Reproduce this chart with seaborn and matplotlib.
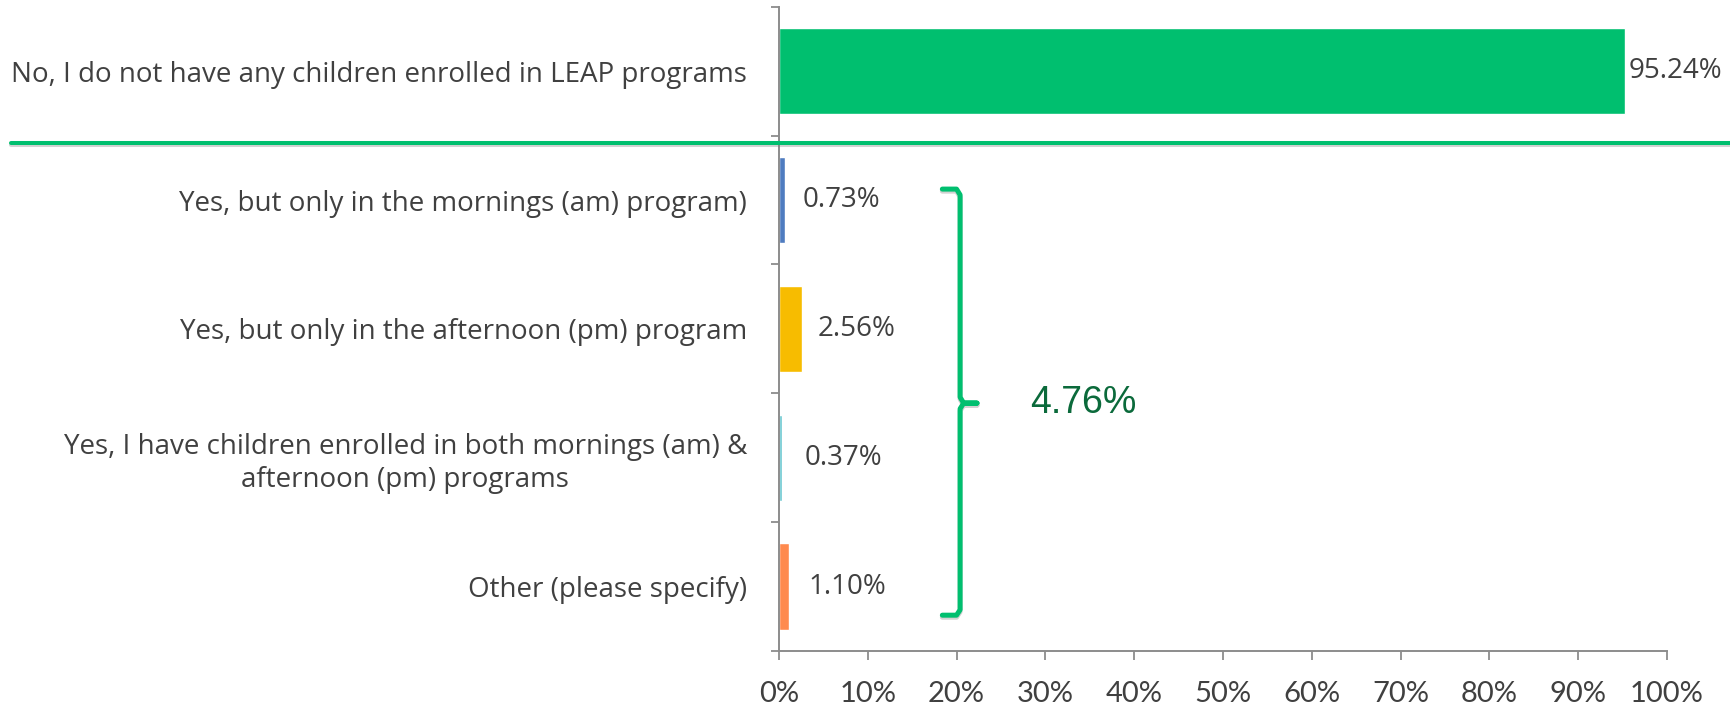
import pandas as pd
import seaborn as sns
import matplotlib.pyplot as plt
import matplotlib.patheffects as pe
import matplotlib.transforms as mtransforms
from matplotlib.lines import Line2D


# data
categories = [
    "No, I do not have any children enrolled in LEAP programs",
    "Yes, but only in the mornings (am) program)",
    "Yes, but only in the afternoon (pm) program",
    "Yes, I have children enrolled in both mornings (am) &\nafternoon (pm) programs",
    "Other (please specify)",
]
values = [95.24, 0.73, 2.56, 0.37, 1.10]
bar_colors = ["#00BF6F", "#4F7CC0", "#F7BC00", "#6BC8D0", "#FF8A4E"]
yes_total = 4.76
x_ticks = list(range(0, 101, 10))

sns.set_theme(style="white")
plt.rcParams["font.family"] = ["Open Sans", "DejaVu Sans"]

df = pd.DataFrame({"answer": categories, "pct": values})

fig = plt.figure(figsize=(17.31, 7.06), dpi=100)
ax = fig.add_axes([0.450, 0.0779, 0.513, 0.9125])

sns.barplot(data=df, y="answer", x="pct", hue="answer", palette=bar_colors,
            legend=False, width=0.67, saturation=1, ax=ax)

# value labels
pads = [3, 12.5, 11.5, 16, 14]
for cont, pad in zip(ax.containers, pads):
    ax.bar_label(cont, fmt="{:.2f}%", padding=pad, fontsize=20, color="#404040")

ax.set_xlim(0, 100)
ax.set_ylim(4.5, -0.5)
ax.set_xticks(x_ticks)
ax.set_xticklabels([f"{t}%" for t in x_ticks], family=["Lato", "DejaVu Sans"], fontsize=21, color="#404040")
ax.set_yticks(range(len(categories)))
ax.set_yticklabels(categories, fontsize=20, color="#404040", multialignment="center",
                   linespacing=1.25)
ax.set_yticks([i - 0.5 for i in range(len(categories) + 1)], minor=True)
ax.set_xlabel("")
ax.set_ylabel("")

ax.tick_params(axis="y", which="major", length=0, pad=23)
ax.tick_params(axis="y", which="minor", left=True, length=5.5, width=1.3, color="#8C8C8C")
ax.tick_params(axis="x", which="major", bottom=True, length=6.5, width=1.3, color="#8C8C8C", pad=15)

sns.despine(ax=ax)
for side in ["left", "bottom"]:
    ax.spines[side].set_color("#8C8C8C")
    ax.spines[side].set_linewidth(1.4)

# green separator under the first answer
trans = mtransforms.blended_transform_factory(fig.transFigure, ax.transData)
shadow = [pe.SimpleLineShadow(offset=(0, -1.5), shadow_color="gray", alpha=0.35), pe.Normal()]
fig.add_artist(Line2D([0.0064, 1.0], [0.557, 0.557], transform=trans,
                      color="#00BF6F", lw=2.9, path_effects=shadow))

# brace grouping the "yes" answers
bx = [18.4, 20.0, 20.4, 20.4, 20.8, 22.3, 20.8, 20.4, 20.4, 20.0, 18.4]
by = [0.915, 0.915, 0.96, 2.53, 2.576, 2.576, 2.576, 2.62, 4.18, 4.222, 4.222]
ax.plot(bx, by, color="#00BF6F", lw=3.6, clip_on=False, solid_joinstyle="round",
        solid_capstyle="round", path_effects=shadow)
ax.text(28.3, 2.576, f"{yes_total:.2f}%", fontsize=27, color="#0B6A3B",
        family=["Liberation Sans", "DejaVu Sans"], va="center", ha="left")

plt.savefig("out.png", dpi=100)
